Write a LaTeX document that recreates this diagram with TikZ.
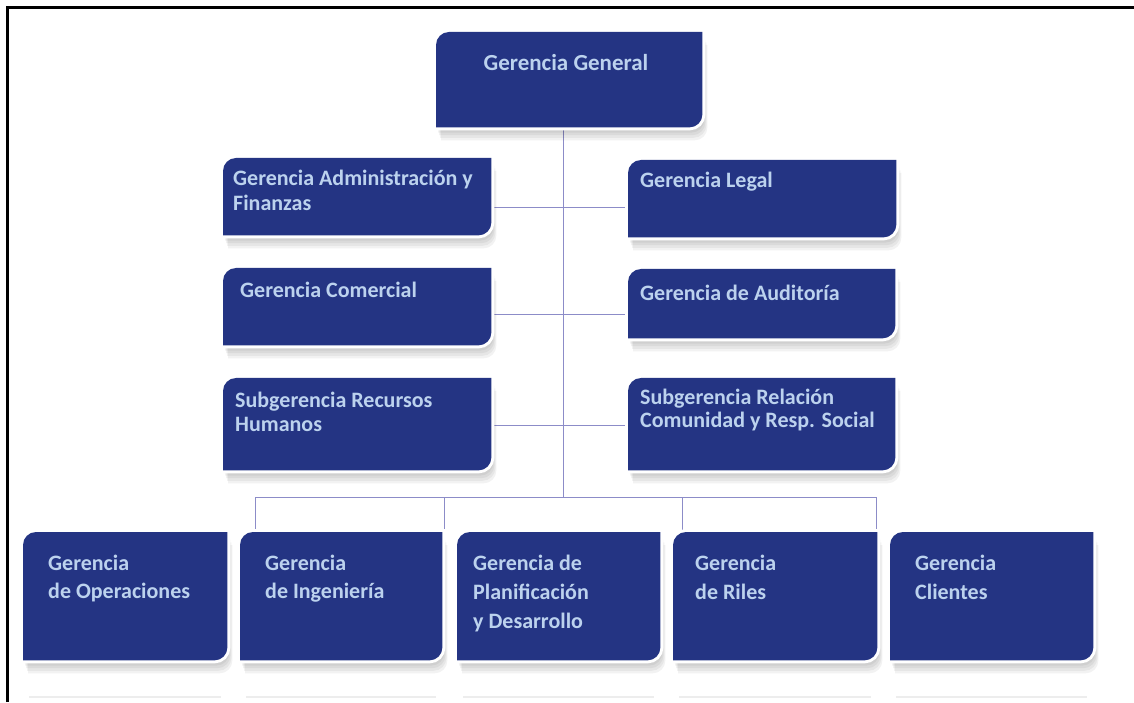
\documentclass[tikz,border=0pt]{standalone}
\usepackage{fontspec}
\setmainfont{Carlito}
\definecolor{boxblue}{HTML}{243483}
\definecolor{txtblue}{HTML}{BCD2EE}
\definecolor{linecol}{HTML}{8C8CC8}
\tikzset{
  orgpath/.style n args={2}{insert path={
    ([shift={(#2)},yshift=-13pt]#1.north west) arc[start angle=180,end angle=90,radius=13pt]
    -- ([shift={(#2)}]#1.north east) -- ([shift={(#2)},yshift=13pt]#1.south east)
    arc[start angle=0,end angle=-90,radius=13pt] -- ([shift={(#2)}]#1.south west) -- cycle}},
  orgbox/.style={draw=none,fill=none,inner sep=0pt,anchor=north west},
  lbl/.style={text=txtblue,inner sep=0pt,anchor=north west,align=left},
  conn/.style={draw=linecol,line width=1pt},
}
\newcommand\up{\rule{0pt}{18pt}}
\begin{document}
\begin{tikzpicture}[x=1pt,y=1pt]
\useasboundingbox (0,0) rectangle (1134,702);
% frame
\draw[line width=3pt] (7.5,0) -- (7.5,694.5) -- (1134,694.5);
% boxes (geometry)
\node[orgbox,minimum width=266pt,minimum height=95pt] (gg) at (436,670) {};
\node[orgbox,minimum width=268pt,minimum height=77pt] (adm) at (223,544) {};
\node[orgbox,minimum width=268pt,minimum height=77pt] (leg) at (628,542) {};
\node[orgbox,minimum width=268pt,minimum height=77pt] (com) at (223,434) {};
\node[orgbox,minimum width=267pt,minimum height=69pt] (aud) at (628,433) {};
\node[orgbox,minimum width=268pt,minimum height=92pt] (rrhh) at (223,324) {};
\node[orgbox,minimum width=267pt,minimum height=92pt] (rel) at (628,324) {};
\node[orgbox,minimum width=204pt,minimum height=128pt] (ops) at (23,170) {};
\node[orgbox,minimum width=202pt,minimum height=128pt] (ing) at (240,170) {};
\node[orgbox,minimum width=203pt,minimum height=128pt] (pla) at (457,170) {};
\node[orgbox,minimum width=204pt,minimum height=128pt] (ril) at (673,170) {};
\node[orgbox,minimum width=203pt,minimum height=128pt] (cli) at (890,170) {};
% connectors
\coordinate (r1) at (563,494);
\coordinate (r2) at (563,387);
\coordinate (r3) at (563,277);
\coordinate (bus) at (563,205);
\coordinate (b1) at (255,205);
\coordinate (b2) at (444,205);
\coordinate (b3) at (682,205);
\coordinate (b4) at (876,205);
\draw[conn] (gg.south -| bus) -- (bus);
\draw[conn] (adm.east |- r1) -- (leg.west |- r1);
\draw[conn] (com.east |- r2) -- (aud.west |- r2);
\draw[conn] (rrhh.east |- r3) -- (rel.west |- r3);
\draw[conn] (b1) -- (b4);
\draw[conn] (b1) -- (b1 |- ing.north);
\draw[conn] (b2) -- (b2 |- ing.north);
\draw[conn] (b3) -- (b3 |- ril.north);
\draw[conn] (b4) -- (b4 |- ril.north);
% faint reflections under the bottom row
\foreach \n in {ops,ing,pla,ril,cli}{
  \draw[black!7,line width=2pt] ([xshift=6pt]\n.south west |- 0,5) -- ([xshift=-6pt]\n.south east |- 0,5);
}
% shadows, white rims and fills
\foreach \n in {gg,adm,leg,com,aud,rrhh,rel,ops,ing,pla,ril,cli}{
  \foreach \s in {1,2,3,4,5}{
    \fill[black,opacity=0.05] [orgpath={\n}{\s*1pt,-\s*2.6pt}];
  }
  \draw[white,line width=6pt] [orgpath={\n}{0pt,0pt}];
  \fill[boxblue] [orgpath={\n}{0pt,0pt}];
}
% labels
\node[lbl,anchor=north,font=\bfseries\fontsize{23}{25}\selectfont] (tgg) at (566,650) {\up Gerencia General};
\node[lbl,font=\bfseries\fontsize{22}{25}\selectfont] (tadm) at (233,535) {\up Gerencia Administración y\\Finanzas};
\node[lbl,font=\bfseries\fontsize{22}{25}\selectfont] (tleg) at (640,533) {\up Gerencia Legal};
\node[lbl,font=\bfseries\fontsize{22}{25}\selectfont] (tcom) at (240,423) {\up Gerencia Comercial};
\node[lbl,font=\bfseries\fontsize{22}{25}\selectfont] (taud) at (640,420) {\up Gerencia de Auditoría};
\node[lbl,font=\bfseries\fontsize{22}{24}\selectfont] (trrhh) at (235,313) {\up Subgerencia Recursos\\Humanos};
\node[lbl,font=\bfseries\fontsize{22}{23.5}\selectfont] (trel) at (640,316) {\up Subgerencia Relación\\Comunidad y Resp. Social};
\node[lbl,font=\bfseries\fontsize{22}{28}\selectfont] (tops) at (48,150) {\up Gerencia\\de Operaciones};
\node[lbl,font=\bfseries\fontsize{22}{28}\selectfont] (ting) at (265,150) {\up Gerencia\\de Ingeniería};
\node[lbl,font=\bfseries\fontsize{22}{29}\selectfont] (tpla) at (473,150) {\up Gerencia de\\Planificación\\y Desarrollo};
\node[lbl,font=\bfseries\fontsize{22}{29}\selectfont] (tril) at (695,150) {\up Gerencia\\de Riles};
\node[lbl,font=\bfseries\fontsize{22}{29}\selectfont] (tcli) at (915,150) {\up Gerencia\\Clientes};
\end{tikzpicture}
\end{document}
